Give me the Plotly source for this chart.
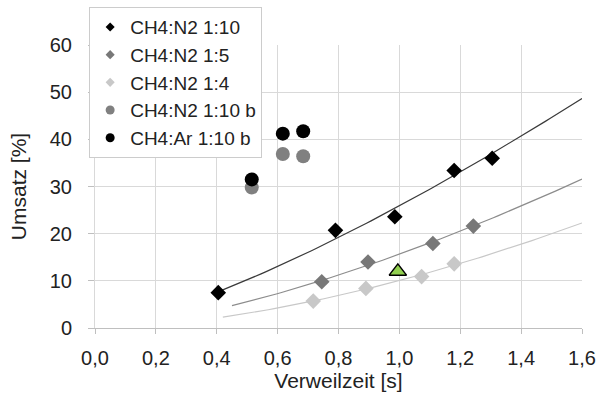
import numpy as np
import plotly.graph_objects as go

# ---- data ----
x_n2_10 = [0.405, 0.79, 0.985, 1.18, 1.305]
y_n2_10 = [7.5, 20.7, 23.6, 33.4, 36.0]

x_n2_5 = [0.745, 0.897, 1.11, 1.243]
y_n2_5 = [9.8, 14.0, 17.9, 21.6]

x_n2_4 = [0.717, 0.89, 1.073, 1.18]
y_n2_4 = [5.7, 8.4, 10.9, 13.6]

x_n2_10b = [0.515, 0.617, 0.684]
y_n2_10b = [29.8, 36.9, 36.4]

x_ar_10b = [0.515, 0.617, 0.684]
y_ar_10b = [31.5, 41.2, 41.7]

x_green = [0.995]
y_green = [12.0]

# trendline ranges (start of each fitted power curve, end at 1.6)
trend_start = [0.41, 0.45, 0.42]
trend_end = 1.6

names = ["CH4:N2 1:10", "CH4:N2 1:5", "CH4:N2 1:4", "CH4:N2 1:10 b", "CH4:Ar 1:10 b"]
x_ticks = [0.0, 0.2, 0.4, 0.6, 0.8, 1.0, 1.2, 1.4, 1.6]
y_ticks = [0, 10, 20, 30, 40, 50, 60]

FONT = "Liberation Sans, Arial, sans-serif"
TXT = "#222222"

fig = go.Figure()

# power-law trendlines (least squares in log-log space, like Excel "Potenz")
trend_sets = [(x_n2_10, y_n2_10, "#3a3a3a"), (x_n2_5, y_n2_5, "#8c8c8c"), (x_n2_4, y_n2_4, "#c8c8c8")]
for (xs, ys, col), xs0 in zip(trend_sets, trend_start):
    b, lna = np.polyfit(np.log(xs), np.log(ys), 1)
    xx = np.linspace(xs0, trend_end, 80)
    yy = np.exp(lna) * xx ** b
    fig.add_trace(go.Scatter(x=xx, y=yy, mode="lines", showlegend=False, hoverinfo="skip",
                             line=dict(color=col, width=1.2)))

marker_specs = [
    (x_n2_10, y_n2_10, "diamond", "#000000", 12),
    (x_n2_5, y_n2_5, "diamond", "#787878", 12),
    (x_n2_4, y_n2_4, "diamond", "#c8c8c8", 12),
    (x_n2_10b, y_n2_10b, "circle", "#808080", 14),
    (x_ar_10b, y_ar_10b, "circle", "#000000", 14),
]
for i, (xs, ys, sym, col, sz) in enumerate(marker_specs):
    fig.add_trace(go.Scatter(x=xs, y=ys, mode="markers", name=names[i], showlegend=False,
                             marker=dict(symbol=sym, color=col, size=sz, line=dict(width=0))))

fig.add_trace(go.Scatter(x=x_green, y=y_green, mode="markers", showlegend=False,
                         marker=dict(symbol="triangle-up", color="#92d050", size=15,
                                     line=dict(color="#000000", width=1.5))))

# legend entries with small symbols, as in the reference legend
for i, (xs, ys, sym, col, sz) in enumerate(marker_specs):
    fig.add_trace(go.Scatter(x=[None], y=[None], mode="markers", name=names[i],
                             legendgroup=str(i),
                             marker=dict(symbol=sym, color=col, size=7 if sym == "diamond" else 9)))

fig.update_layout(
    width=597, height=396,
    margin=dict(l=95, r=15, t=45, b=68, autoexpand=False),
    paper_bgcolor="white", plot_bgcolor="white",
    separators=",.",
    font=dict(family=FONT, color=TXT, size=20),
    legend=dict(x=-0.012, y=1.134, xanchor="left", yanchor="top",
                bgcolor="white", bordercolor="#cccccc", borderwidth=1,
                font=dict(size=19, color=TXT), itemwidth=30, tracegroupgap=0),
)
fig.update_xaxes(range=[0, 1.6], tickvals=x_ticks, tickformat=".1f", automargin=False,
                 showgrid=True, gridcolor="#d9d9d9", gridwidth=1,
                 showline=True, linecolor="#bfbfbf", linewidth=1,
                 ticks="outside", ticklen=5, tickcolor="#bfbfbf",
                 ticklabelstandoff=7, zeroline=False,
                 title=dict(text="Verweilzeit [s]", font=dict(size=21), standoff=4))
fig.update_yaxes(range=[0, 60], tickvals=y_ticks, automargin=False,
                 showgrid=True, gridcolor="#d9d9d9", gridwidth=1,
                 showline=True, linecolor="#d9d9d9", linewidth=1,
                 ticks="outside", ticklen=6, tickcolor="#bfbfbf",
                 ticklabelstandoff=12, zeroline=False,
                 title=dict(text="Umsatz [%]", font=dict(size=21), standoff=17))

fig.write_html("out.html", config={"displayModeBar": False},
               post_script="document.body.style.margin='0';document.body.style.overflow='hidden';")
